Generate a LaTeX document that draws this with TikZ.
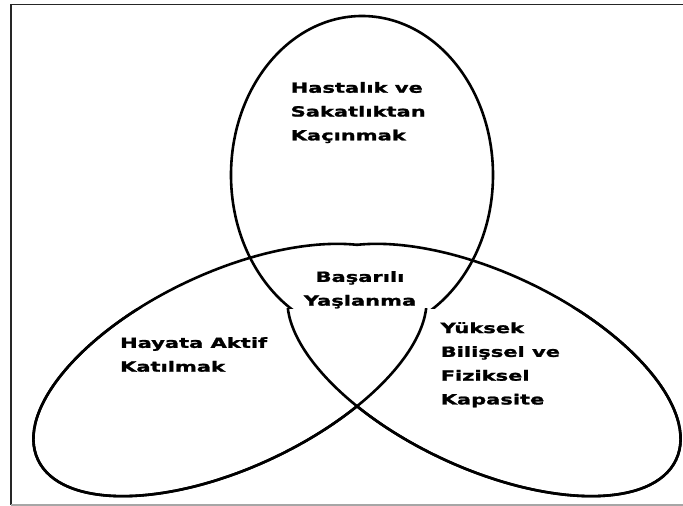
\documentclass[tikz,border=0pt]{standalone}
\usepackage{fontspec}
\newfontfamily\lblfont[FakeStretch=1.5,FakeBold=1.6]{DejaVu Sans Bold}

\begin{document}
\begin{tikzpicture}[x=1pt,y=-1pt,
    lobe/.style={line width=2.6pt},
    lbl/.style={font=\lblfont\fontsize{14}{23.8}\selectfont, inner sep=0pt, align=left, anchor=north west}]
    \useasboundingbox (0,0) rectangle (683,506);

    % Frame
    \draw[black!85, line width=1.6pt] (683,4.5) -- (10.8,4.5) -- (10.8,505);
    \draw[black!35, line width=1.2pt] (10.8,505) -- (683,505);

    % Top lobe, lower arc left out
    \begin{scope}
        \clip (0,0) rectangle (683,308.5);
        \draw[lobe] (362,175) ellipse [x radius=131, y radius=159];
    \end{scope}

    % Left lobe, tip left out
    \begin{scope}
        \clip (0,0) rectangle (357,506);
        \draw[lobe, rotate around={25:(230,370)}] (230,370) ellipse [x radius=212, y radius=98];
    \end{scope}
    \begin{scope}
        \clip (0,308.5) rectangle (683,506);
        \draw[lobe, rotate around={25:(230,370)}] (230,370) ellipse [x radius=212, y radius=98];
    \end{scope}

    % Right lobe, tip left out
    \begin{scope}
        \clip (357,0) rectangle (683,506);
        \draw[lobe, rotate around={-25:(484,370)}] (484,370) ellipse [x radius=212, y radius=98];
    \end{scope}
    \begin{scope}
        \clip (0,308.5) rectangle (683,506);
        \draw[lobe, rotate around={-25:(484,370)}] (484,370) ellipse [x radius=212, y radius=98];
    \end{scope}

    % Labels
    \node[lbl] (health) at (290.5,81.9) {Hastalık ve\\Sakatlıktan\\Kaçınmak};
    \node[lbl, anchor=north, align=center] (aging) at (360,271) {Başarılı\\Yaşlanma};
    \node[lbl] (active) at (119.9,337) {Hayata Aktif\\Katılmak};
    \node[lbl] (capacity) at (440.5,322) {Yüksek\\Bilişsel ve\\Fiziksel\\Kapasite};
\end{tikzpicture}
\end{document}
